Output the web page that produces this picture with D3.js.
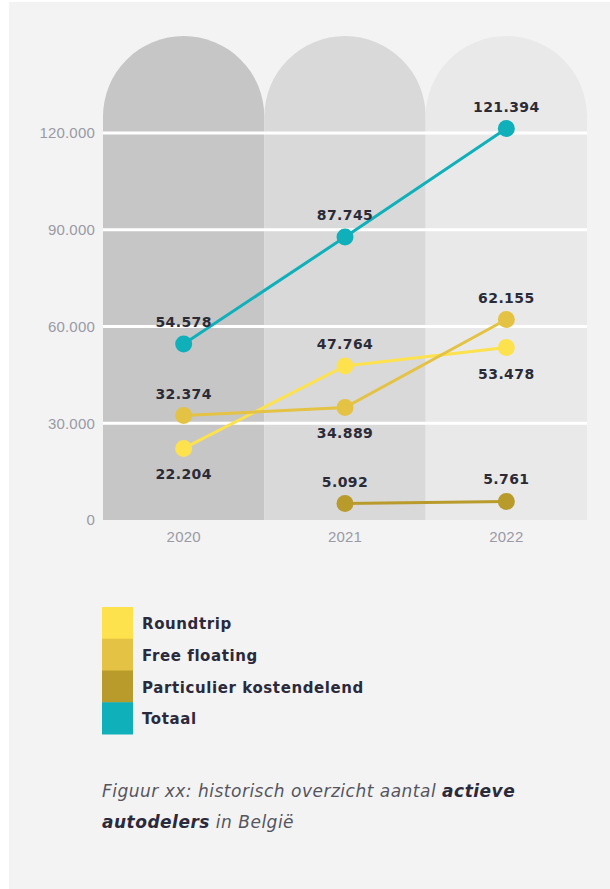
<!DOCTYPE html>
<html>
<head>
<meta charset="utf-8">
<script src="https://cdn.jsdelivr.net/npm/d3@7.9.0/dist/d3.min.js"></script>
<style>
  html, body { margin: 0; padding: 0; background: #ffffff; }
  svg { display: block; }
</style>
</head>
<body>
<div id="chart"></div>
<script>
// chart data
const years = ["2020", "2021", "2022"];
const seriesNames = ["Roundtrip", "Free floating", "Particulier kostendelend", "Totaal"];
const roundtrip = [22204, 47764, 53478];
const freeFloating = [32374, 34889, 62155];
const particulier = [null, 5092, 5761];
const totaal = [54578, 87745, 121394];
const yTicks = [0, 30000, 60000, 90000, 120000];
// where each value label sits relative to its dot
const roundtripLabelPos = ["below", "above", "below"];
const freeFloatingLabelPos = ["above", "below", "above"];
const particulierLabelPos = [null, "above", "above"];
const totaalLabelPos = ["above", "above", "above"];

const colors = {
    "Roundtrip": "#fde14d",
    "Free floating": "#e4c243",
    "Particulier kostendelend": "#b99b2c",
    "Totaal": "#10b0bb"
};
const columnColors = ["#c6c6c7", "#d9d9da", "#e9e9ea"];

const W = 610, H = 889;
const nl = d3.formatLocale({ decimal: ",", thousands: ".", grouping: [3], currency: ["€", ""] });
const fmt = nl.format(",d");

const svg = d3.select("#chart").append("svg")
    .attr("width", W)
    .attr("height", H);

// grey panel
svg.append("rect")
    .attr("x", 9).attr("y", 2)
    .attr("width", W - 9).attr("height", H - 2)
    .attr("fill", "#f3f3f3");

const x = d3.scaleBand()
    .domain(years)
    .range([103, 587])
    .padding(0);

const y = d3.scaleLinear()
    .domain([0, 120000])
    .range([520, 133]);

const cx = d => x(d) + x.bandwidth() / 2;

// arched columns
const bw = x.bandwidth();
const r = bw / 2;
const archTop = 36;
svg.append("g").selectAll("path")
    .data(years)
    .join("path")
    .attr("fill", (d, i) => columnColors[i])
    .attr("d", d => {
        const x0 = x(d), x1 = x0 + bw, yb = y(0), ys = archTop + r;
        return `M${x0},${yb}L${x0},${ys}A${r},${r} 0 0 1 ${x1},${ys}L${x1},${yb}Z`;
    });

// grid lines
svg.append("g").selectAll("line")
    .data(yTicks.filter(t => t > 0))
    .join("line")
    .attr("x1", 103).attr("x2", 587)
    .attr("y1", d => y(d)).attr("y2", d => y(d))
    .attr("stroke", "#ffffff")
    .attr("stroke-width", 3);

// y axis labels
const yAxis = svg.append("g")
    .attr("transform", "translate(103,0)")
    .call(d3.axisLeft(y).tickValues(yTicks).tickFormat(fmt).tickSize(0).tickPadding(8));
yAxis.select(".domain").remove();
yAxis.selectAll("text")
    .attr("font-family", "'Liberation Sans', Arial, sans-serif")
    .attr("font-size", 15)
    .attr("fill", "#9a9aa6")
    .attr("letter-spacing", "0.2");

// x axis labels
const xAxis = svg.append("g")
    .attr("transform", `translate(0,${y(0)})`)
    .call(d3.axisBottom(x).tickSize(0).tickPadding(11));
xAxis.select(".domain").remove();
xAxis.selectAll("text")
    .attr("font-family", "'Liberation Sans', Arial, sans-serif")
    .attr("font-size", 15)
    .attr("fill", "#9a9aa6")
    .attr("letter-spacing", "0.2");

// series
const series = [
    { name: "Roundtrip", values: roundtrip, pos: roundtripLabelPos },
    { name: "Free floating", values: freeFloating, pos: freeFloatingLabelPos },
    { name: "Particulier kostendelend", values: particulier, pos: particulierLabelPos },
    { name: "Totaal", values: totaal, pos: totaalLabelPos }
];

const line = d3.line()
    .defined(d => d.v != null)
    .x(d => cx(d.year))
    .y(d => y(d.v));

series.forEach(s => {
    const pts = years.map((yr, i) => ({ year: yr, v: s.values[i], pos: s.pos[i] }));
    const g = svg.append("g");
    g.append("path")
        .datum(pts)
        .attr("fill", "none")
        .attr("stroke", colors[s.name])
        .attr("stroke-width", 3)
        .attr("d", line);
    const valid = pts.filter(d => d.v != null);
    g.selectAll("circle")
        .data(valid)
        .join("circle")
        .attr("cx", d => cx(d.year))
        .attr("cy", d => y(d.v))
        .attr("r", 8.5)
        .attr("fill", colors[s.name]);
    s.labels = valid;
});

// value labels on top of everything
series.forEach(s => {
    svg.append("g").selectAll("text")
        .data(s.labels)
        .join("text")
        .attr("x", d => cx(d.year))
        .attr("y", d => y(d.v) + (d.pos === "above" ? -17 : 31))
        .attr("text-anchor", "middle")
        .attr("font-family", "'DejaVu Sans', sans-serif")
        .attr("font-weight", "bold")
        .attr("font-size", 14)
        .attr("letter-spacing", "0.4")
        .attr("fill", "#2b2b38")
        .text(d => fmt(d.v));
});

// legend
const legend = svg.append("g").attr("transform", "translate(102,607)");
const legendRow = 31.75;
legend.selectAll("rect")
    .data(seriesNames)
    .join("rect")
    .attr("x", 0)
    .attr("y", (d, i) => i * legendRow)
    .attr("width", 31)
    .attr("height", legendRow + 0.5)
    .attr("fill", d => colors[d]);
legend.selectAll("text")
    .data(seriesNames)
    .join("text")
    .attr("x", 40)
    .attr("y", (d, i) => i * legendRow + 22)
    .attr("font-family", "'DejaVu Sans', sans-serif")
    .attr("font-weight", "bold")
    .attr("font-size", 15)
    .attr("letter-spacing", "0.6")
    .attr("fill", "#2a2a3c")
    .text(d => d);

// caption
const caption = svg.append("text")
    .attr("font-family", "'DejaVu Sans', sans-serif")
    .attr("font-style", "italic")
    .attr("font-size", 17)
    .attr("letter-spacing", "0.5")
    .attr("fill", "#55555f");
const l1 = caption.append("tspan").attr("x", 102).attr("y", 797);
l1.append("tspan").text("Figuur xx: historisch overzicht aantal ");
l1.append("tspan").attr("font-weight", "bold").attr("fill", "#2a2a3c").text("actieve");
const l2 = caption.append("tspan").attr("x", 102).attr("y", 828);
l2.append("tspan").attr("font-weight", "bold").attr("fill", "#2a2a3c").text("autodelers");
l2.append("tspan").text(" in België");
</script>
</body>
</html>
